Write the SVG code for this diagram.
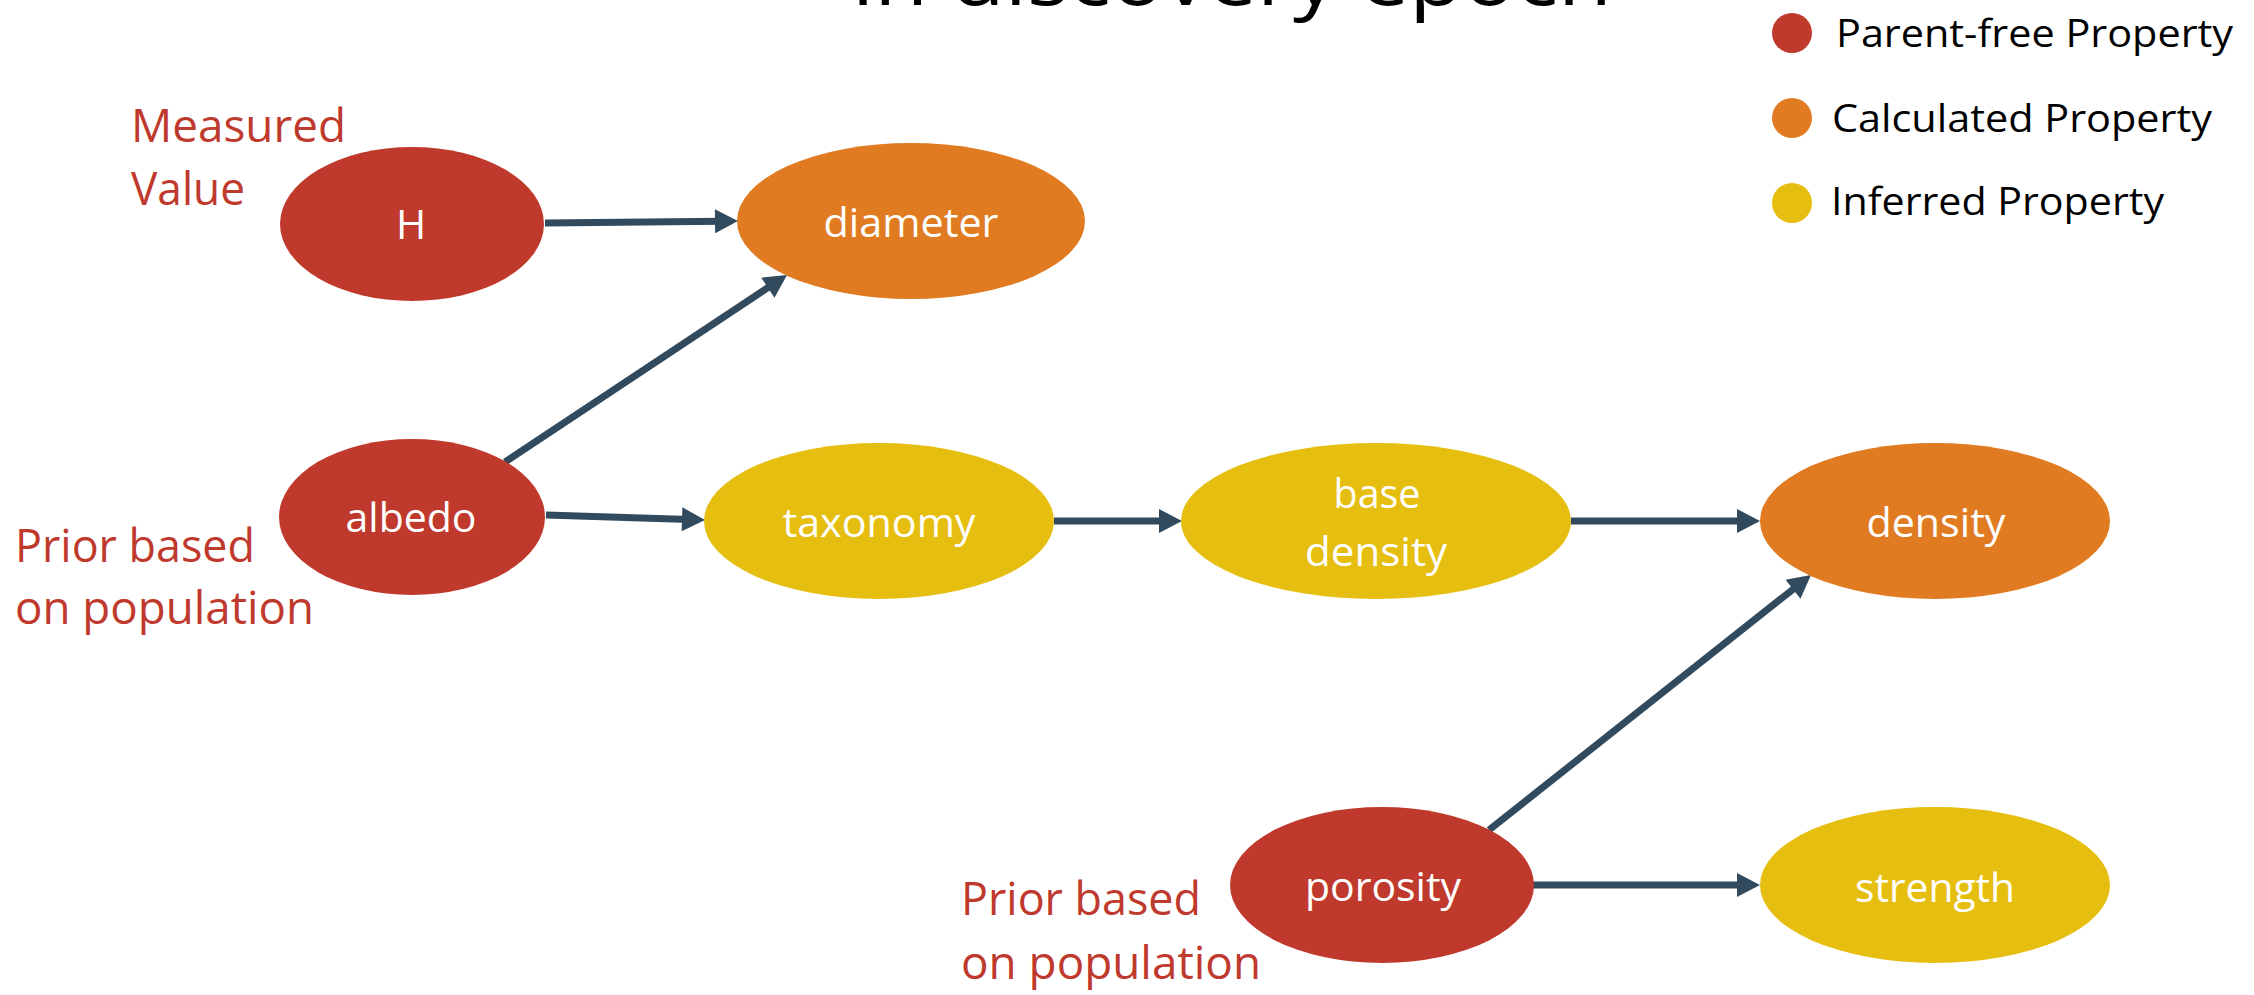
<svg xmlns="http://www.w3.org/2000/svg" width="2254" height="995" viewBox="0 0 2254 995">
<style>
text{font-family:"Open Sans","Noto Sans","Liberation Sans",sans-serif;}
.lbl{fill:#ffffff;font-size:41px;text-anchor:middle;}
.ann{fill:#C0392D;font-size:45px;}
.leg{fill:#000000;font-size:38px;}
.red{fill:#C0392D;}
.org{fill:#E07B22;}
.yel{fill:#E6BE10;}
.edge{stroke:#324A5E;stroke-width:7;fill:none;marker-end:url(#arr);}
</style>
<defs>
<marker id="arr" markerUnits="userSpaceOnUse" markerWidth="24" markerHeight="24" viewBox="0 0 23 24" refX="7" refY="12" orient="auto">
<path d="M0,0 L23,12 L0,24 z" fill="#324A5E"/>
</marker>
</defs>
<rect width="2254" height="995" fill="#ffffff"/>
<text x="852" y="5" font-size="76" fill="#000000" textLength="760" lengthAdjust="spacingAndGlyphs">in discovery epoch</text>
<g id="legend">
<circle class="red" cx="1792" cy="33" r="20"/>
<text class="leg" x="1836" y="47" textLength="397" lengthAdjust="spacingAndGlyphs">Parent-free Property</text>
<circle class="org" cx="1792" cy="118" r="20"/>
<text class="leg" x="1832" y="132" textLength="380" lengthAdjust="spacingAndGlyphs">Calculated Property</text>
<circle class="yel" cx="1792" cy="203" r="20"/>
<text class="leg" x="1831" y="215" textLength="333" lengthAdjust="spacingAndGlyphs">Inferred Property</text>
</g>
<g id="connectors">
<line class="edge" x1="545" y1="223" x2="722" y2="221.2"/>
<line class="edge" x1="505" y1="462" x2="773.7" y2="283.8"/>
<line class="edge" x1="546" y1="515" x2="689" y2="519.5"/>
<line class="edge" x1="1054" y1="521" x2="1166" y2="521"/>
<line class="edge" x1="1571" y1="521" x2="1744" y2="521"/>
<line class="edge" x1="1489" y1="830" x2="1798.5" y2="584.9"/>
<line class="edge" x1="1533" y1="885" x2="1744" y2="885"/>
</g>
<g id="node-H">
<ellipse class="red" cx="412" cy="224" rx="132" ry="77"/>
<text class="lbl" x="411" y="239">H</text>
</g>
<g id="node-diameter">
<ellipse class="org" cx="911" cy="221" rx="174" ry="78"/>
<text class="lbl" x="911" y="237" textLength="175" lengthAdjust="spacingAndGlyphs">diameter</text>
</g>
<g id="node-albedo">
<ellipse class="red" cx="412" cy="517" rx="133" ry="78"/>
<text class="lbl" x="411" y="532" textLength="131" lengthAdjust="spacingAndGlyphs">albedo</text>
</g>
<g id="node-taxonomy">
<ellipse class="yel" cx="879" cy="521" rx="175" ry="78"/>
<text class="lbl" x="879" y="537" textLength="193" lengthAdjust="spacingAndGlyphs">taxonomy</text>
</g>
<g id="node-base-density">
<ellipse class="yel" cx="1376" cy="521" rx="195" ry="78"/>
<text class="lbl" x="1377" y="508" textLength="87" lengthAdjust="spacingAndGlyphs">base</text>
<text class="lbl" x="1376" y="566" textLength="142" lengthAdjust="spacingAndGlyphs">density</text>
</g>
<g id="node-density">
<ellipse class="org" cx="1935" cy="521" rx="175" ry="78"/>
<text class="lbl" x="1936" y="537" textLength="139" lengthAdjust="spacingAndGlyphs">density</text>
</g>
<g id="node-porosity">
<ellipse class="red" cx="1382" cy="885" rx="152" ry="78"/>
<text class="lbl" x="1383" y="901" textLength="156" lengthAdjust="spacingAndGlyphs">porosity</text>
</g>
<g id="node-strength">
<ellipse class="yel" cx="1935" cy="885" rx="175" ry="78"/>
<text class="lbl" x="1935" y="902" textLength="160" lengthAdjust="spacingAndGlyphs">strength</text>
</g>
<g id="annotations">
<text class="ann" x="131" y="142" textLength="215" lengthAdjust="spacingAndGlyphs">Measured</text>
<text class="ann" x="131" y="205" textLength="114" lengthAdjust="spacingAndGlyphs">Value</text>
<text class="ann" x="15" y="562" textLength="240" lengthAdjust="spacingAndGlyphs">Prior based</text>
<text class="ann" x="15" y="624" textLength="299" lengthAdjust="spacingAndGlyphs">on population</text>
<text class="ann" x="961" y="915" textLength="240" lengthAdjust="spacingAndGlyphs">Prior based</text>
<text class="ann" x="961" y="979" textLength="300" lengthAdjust="spacingAndGlyphs">on population</text>
</g>
</svg>
